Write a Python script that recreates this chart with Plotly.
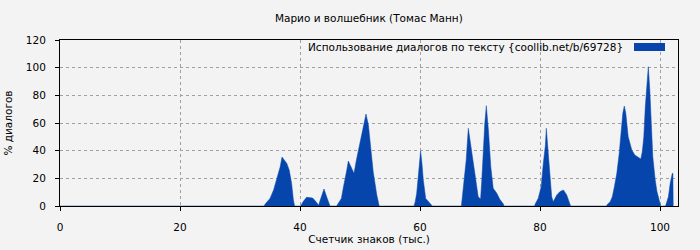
import plotly.graph_objects as go

# x: text position, thousands of characters; y: % of dialogue
x_thousands = [
    0.0, 34.0,
    34.2, 35.0, 35.6, 36.1, 36.7, 37.0, 37.4, 37.8, 38.2, 38.6, 38.9, 39.1,
    40.1, 40.5, 41.1, 41.6, 42.1, 42.6, 43.05, 43.1, 43.5, 44.0, 44.5, 45.0,
    46.1, 46.3, 46.9, 47.2, 47.5, 47.8, 48.05, 48.4, 48.7, 49.0, 49.4, 50.0,
    50.55, 51.0, 51.4, 51.8, 52.2, 52.8, 53.2,
    59.0, 59.2, 59.45, 59.7, 59.9, 60.1, 60.3, 60.55, 60.95, 61.3, 61.55, 62.05,
    66.9, 67.0, 67.3, 67.7, 68.05, 68.45, 68.9, 69.3, 69.7, 70.0, 70.1, 70.3,
    70.55, 70.8, 71.05, 71.4, 71.8, 72.2, 72.8, 73.3, 73.9, 74.0,
    79.1, 79.2, 79.7, 80.2, 80.55, 80.9, 81.05, 81.4, 81.7, 81.95, 82.2, 82.8,
    83.3, 83.9, 84.45, 84.9, 85.1,
    91.1, 91.2, 91.7, 92.05, 92.4, 92.8, 93.2, 93.5, 93.8, 94.05, 94.3, 94.7,
    95.3, 95.8, 96.4, 96.8, 97.05, 97.3, 97.55, 97.8, 98.05, 98.3, 98.5, 98.8,
    99.2, 99.5, 99.8, 100.1,
    100.9, 101.0, 101.4, 101.7, 102.05, 102.15, 102.2,
]
dialog_pct = [
    0, 0,
    1.4, 5.5, 11.6, 18.8, 28.4, 35.4, 33.5, 30.8, 26, 16.4, 4.3, 0,
    0, 3, 6.3, 6.2, 5.8, 3.5, 1, 0.5, 6, 12.3, 6, 0,
    0, 1.5, 5.5, 12.8, 21, 26, 32.5, 29.6, 26.5, 23.6, 33.3, 46.5,
    58.6, 66.5, 58.6, 41.7, 24.8, 8, 0,
    0, 3, 9.2, 23.6, 33, 39.8, 32, 18.8, 5.5, 3.5, 2.4, 0,
    0, 4, 14, 33.3, 56.2, 45.3, 30.8, 18.8, 6.7, 5, 5, 18.8,
    40.5, 59.8, 72.5, 55, 28.4, 12.8, 9.2, 4.8, 1.4, 0,
    0, 1.5, 5.5, 14, 30.8, 44, 56.2, 38, 18.8, 6.7, 3, 8,
    10.3, 11.6, 8, 2, 0,
    0, 1, 3.1, 6.7, 14, 23.6, 38, 52.6, 67, 72.3, 67, 50.1,
    40.5, 36.9, 35.2, 34, 39.3, 50.1, 71.8, 88.7, 100.7, 83.9, 62.2, 35.6,
    18.8, 10.3, 5.5, 0,
    0, 1, 6.7, 16.4, 23.6, 23.6, 0,
]

x_ticks = [0, 20, 40, 60, 80, 100]
y_ticks = [0, 20, 40, 60, 80, 100, 120]

title_text = "Марио и волшебник (Томас Манн)"
series_name = "Использование диалогов по тексту {coollib.net/b/69728}"
x_title = "Счетчик знаков (тыс.)"
y_title = "% диалогов"

BLUE = "#0646AC"
BG = "#F3F3F3"
FONT = "DejaVu Sans"
FS = 10.5

fig = go.Figure()
fig.add_trace(go.Scatter(
    x=x_thousands, y=dialog_pct, mode="lines", fill="tozeroy",
    line=dict(color=BLUE, width=0.5), fillcolor=BLUE,
    name=series_name, showlegend=False, hoverinfo="skip",
))

axis_common = dict(
    showline=True, linecolor="black", linewidth=1, mirror=True,
    ticks="outside", ticklen=4, tickcolor="black", automargin=False,
    showgrid=True, gridcolor="#A0A0A0", griddash="3px,3px", gridwidth=1,
    zeroline=False, tickfont=dict(family=FONT, size=FS, color="black"),
)

fig.update_layout(
    width=700, height=250,
    margin=dict(l=60, r=22, t=40, b=44),
    paper_bgcolor=BG, plot_bgcolor=BG,
    font=dict(family=FONT, size=FS, color="black"),
    title=dict(text=title_text, x=0.527, xanchor="center", y=0.925, yanchor="middle",
               font=dict(family=FONT, size=FS, color="black")),
    xaxis=dict(range=[0, 103], tickvals=x_ticks, ticklabelstandoff=7,
               title=dict(text=x_title, font=dict(family=FONT, size=FS), standoff=4),
               **axis_common),
    yaxis=dict(range=[0, 120], tickvals=y_ticks, ticklabelstandoff=7,
               title=dict(text=y_title, font=dict(family=FONT, size=FS), standoff=11),
               **axis_common),
)

# legend drawn manually (symbol to the right of the text)
fig.add_annotation(text=series_name, xref="paper", yref="paper",
                   x=(625 - 60) / 618, y=(206 - 46.5) / 166, xanchor="right", yanchor="middle",
                   showarrow=False, font=dict(family=FONT, size=FS, color="black"))
fig.add_shape(type="rect", xref="paper", yref="paper",
              x0=(634 - 60) / 618, x1=(665 - 60) / 618,
              y0=(206 - 51) / 166, y1=(206 - 43) / 166,
              fillcolor=BLUE, line=dict(width=0))

fig.write_html("out.html")
